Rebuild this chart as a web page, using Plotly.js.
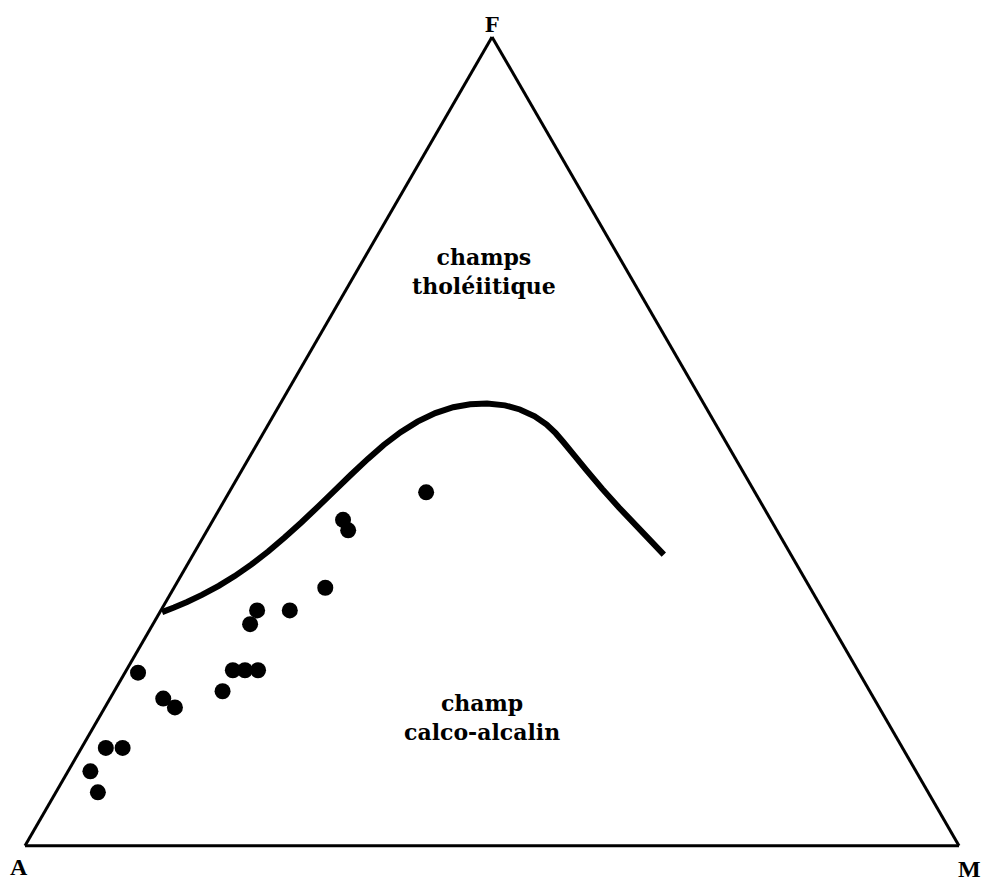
<!DOCTYPE html>
<html>
<head>
<meta charset="utf-8">
<script src="https://cdn.plot.ly/plotly-3.0.1.min.js"></script>
<style>
  html, body { margin: 0; padding: 0; background: #ffffff; }
  #afm { width: 985px; height: 884px; }
</style>
</head>
<body>
<div id="afm"></div>
<script>
// AFM diagram: A = Na2O+K2O, F = FeO total, M = MgO (percent of the sum)
// Samples
const sampleF = [43.7, 40.3, 39.0, 31.9, 29.1, 29.1, 27.4, 21.7, 21.7, 21.7, 19.1, 21.4, 18.2, 17.1, 12.1, 12.1, 9.2, 6.6];
const sampleA = [35.2, 45.8, 45.9, 51.9, 60.6, 57.1, 62.2, 66.9, 65.6, 64.2, 69.3, 77.2, 76.1, 75.4, 85.3, 83.5, 88.4, 88.9];
const sampleM = [21.1, 13.9, 15.1, 16.2, 10.3, 13.8, 10.4, 11.4, 12.7, 14.1, 11.6, 1.4, 5.7, 7.5, 2.6, 4.4, 2.4, 4.5];

// Boundary between the tholeiitic and calc-alkaline fields
const limitF = [28.89, 29.46, 30.15, 31.02, 32.14, 33.34, 34.78, 36.41, 38.08, 39.96, 41.93, 43.84, 45.87, 47.83,
                49.55, 51.13, 52.44, 53.50, 54.22, 54.58, 54.67, 54.45, 53.94, 53.10, 52.08, 51.01, 49.89, 48.24,
                46.45, 44.12, 41.79, 38.56, 35.99];
const limitA = [70.88, 69.32, 67.58, 65.55, 63.19, 60.88, 58.36, 55.73, 53.20, 50.44, 47.66, 44.99, 42.17, 39.38,
                36.82, 34.22, 31.76, 29.32, 27.04, 25.05, 23.19, 21.39, 20.05, 18.88, 18.11, 17.68, 17.40, 17.05,
                16.67, 16.14, 15.49, 14.44, 13.61];
const limitM = [0.23, 1.22, 2.27, 3.43, 4.67, 5.78, 6.86, 7.86, 8.72, 9.60, 10.41, 11.17, 11.96, 12.79,
                13.63, 14.65, 15.80, 17.18, 18.74, 20.37, 22.14, 24.16, 26.01, 28.02, 29.81, 31.31, 32.71, 34.71,
                36.88, 39.74, 42.72, 47.00, 50.40];

// Vertex labels (F top, A left, M right) and field names
const vertexLabels = ['F', 'A', 'M'];
const fieldLabels = ['champs<br>tholéiitique', 'champ<br>calco-alcalin'];

const serif = 'Liberation Serif, Times New Roman, serif';
const fieldFont = 'DejaVu Serif, Liberation Serif, serif';

const traces = [
  {
    type: 'scatterternary',
    mode: 'lines',
    a: limitF, b: limitA, c: limitM,
    line: { color: '#000000', width: 6, shape: 'linear' },
    hoverinfo: 'skip',
    showlegend: false
  },
  {
    type: 'scatterternary',
    mode: 'markers',
    a: sampleF, b: sampleA, c: sampleM,
    marker: { color: '#000000', size: 16, line: { width: 0 } },
    showlegend: false
  }
];

const axisStyle = {
  min: 0,
  showgrid: false,
  showticklabels: false,
  ticks: '',
  linecolor: '#000000',
  linewidth: 3,
  title: { text: '' }
};

function label(text, x, y, family, size) {
  return {
    text: text, x: x, y: y, xref: 'paper', yref: 'paper',
    xanchor: 'center', yanchor: 'middle', showarrow: false,
    font: { family: family, size: size, color: '#000000', weight: 'bold' }
  };
}

const layout = {
  width: 985,
  height: 884,
  margin: { l: 0, r: 0, t: 0, b: 0 },
  paper_bgcolor: '#ffffff',
  showlegend: false,
  ternary: {
    sum: 100,
    bgcolor: '#ffffff',
    domain: { x: [0.0254, 0.9736], y: [0.043, 0.9585] },
    aaxis: Object.assign({}, axisStyle),
    baxis: Object.assign({}, axisStyle),
    caxis: Object.assign({}, axisStyle)
  },
  annotations: [
    label(vertexLabels[0], 0.4995, 0.9729, serif, 24),
    label(vertexLabels[1], 0.0193, 0.0192, serif, 24),
    label(vertexLabels[2], 0.9838, 0.0170, serif, 24),
    label(fieldLabels[0], 0.4914, 0.6934, fieldFont, 22),
    label(fieldLabels[1], 0.4893, 0.1889, fieldFont, 22)
  ]
};

Plotly.newPlot('afm', traces, layout, { displayModeBar: false, staticPlot: true });
</script>
</body>
</html>
